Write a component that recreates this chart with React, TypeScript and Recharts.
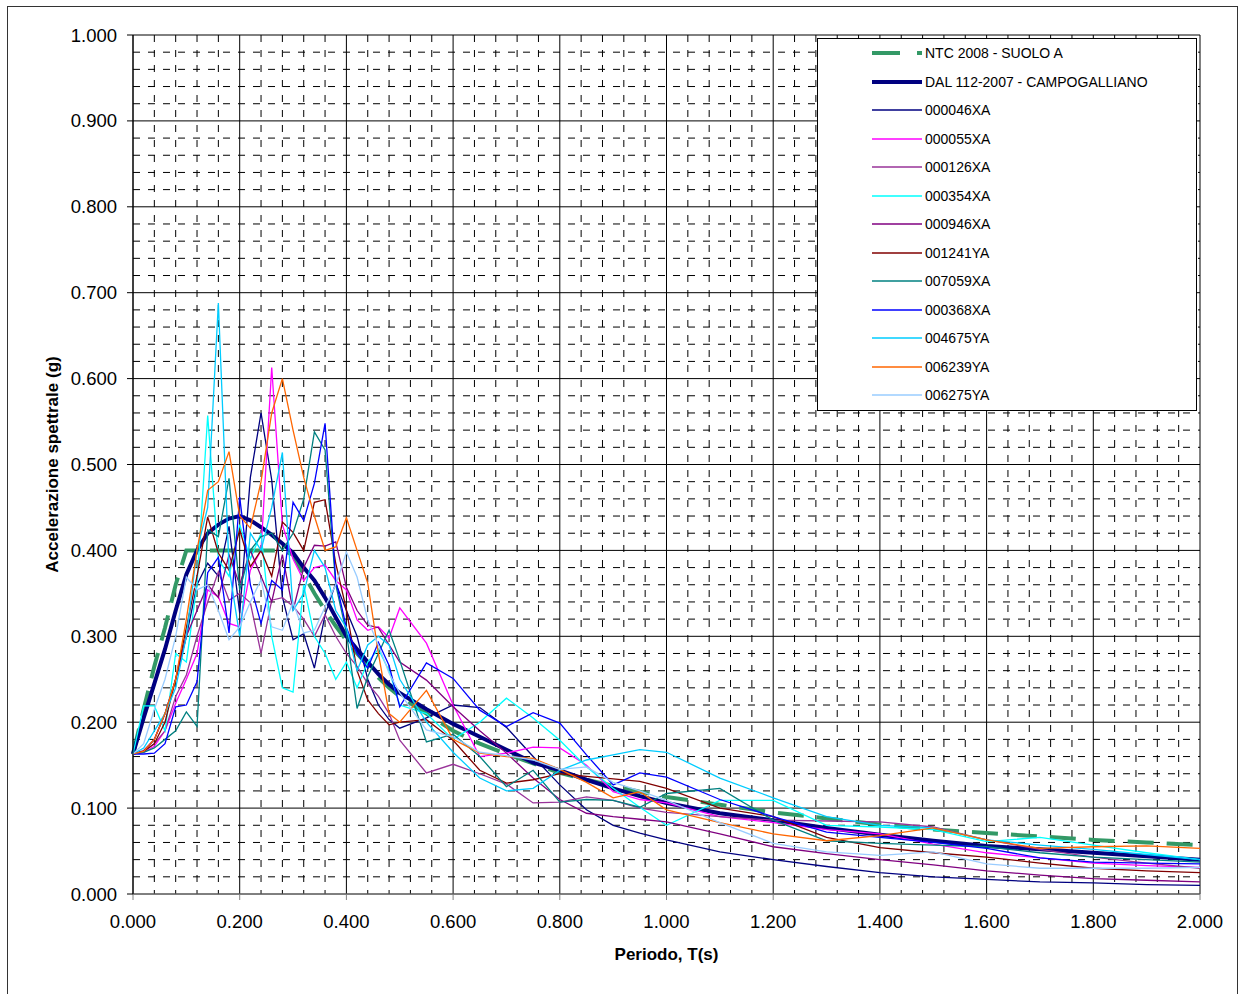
import React from "react";
import { LineChart, Line, XAxis, YAxis, CartesianGrid, Legend, Label } from "recharts";

const FONT = "'Liberation Sans', Arial, sans-serif";

// periods T(s)
const periods = [
  0, 0.02, 0.04, 0.06, 0.08, 0.1, 0.12, 0.14, 0.16, 0.18, 0.2, 0.22, 0.24, 0.26, 0.28, 0.3,
  0.32, 0.34, 0.36, 0.38, 0.4, 0.42, 0.44, 0.46, 0.48, 0.5,
  0.55, 0.6, 0.65, 0.7, 0.75, 0.8, 0.85, 0.9, 0.95, 1,
  1.1, 1.2, 1.3, 1.4, 1.5, 1.6, 1.7, 1.8, 1.9, 2,
];

const ntc = [
  0.163, 0.215, 0.265, 0.31, 0.36, 0.4, 0.4, 0.4, 0.4, 0.4, 0.4, 0.4, 0.4, 0.4, 0.4, 0.395,
  0.372, 0.35, 0.33, 0.312, 0.295, 0.28, 0.266, 0.252, 0.24, 0.23,
  0.21, 0.19, 0.175, 0.163, 0.152, 0.141, 0.133, 0.126, 0.119, 0.113,
  0.104, 0.095, 0.088, 0.081, 0.075, 0.071, 0.067, 0.063, 0.06, 0.057,
];
const dal = [
  0.163, 0.205, 0.245, 0.285, 0.33, 0.372, 0.4, 0.42, 0.43, 0.437, 0.44, 0.435, 0.427, 0.418, 0.408, 0.397,
  0.38, 0.365, 0.345, 0.322, 0.3, 0.285, 0.27, 0.256, 0.244, 0.234,
  0.215, 0.198, 0.183, 0.168, 0.153, 0.144, 0.133, 0.123, 0.114, 0.106,
  0.094, 0.086, 0.077, 0.069, 0.062, 0.056, 0.052, 0.048, 0.044, 0.04,
];
const s046 = [
  0.163, 0.165, 0.18, 0.21, 0.25, 0.3, 0.36, 0.385, 0.37, 0.428, 0.327, 0.485, 0.56, 0.482, 0.346, 0.296,
  0.303, 0.263, 0.325, 0.362, 0.33, 0.3, 0.25, 0.22, 0.203, 0.193,
  0.205, 0.22, 0.217, 0.194, 0.16, 0.127, 0.098, 0.08, 0.071, 0.063,
  0.049, 0.04, 0.032, 0.025, 0.02, 0.017, 0.014, 0.013, 0.011, 0.01,
];
const s055 = [
  0.163, 0.165, 0.172, 0.19, 0.222, 0.25, 0.28, 0.354, 0.346, 0.315, 0.311, 0.377, 0.4, 0.613, 0.43, 0.39,
  0.365, 0.38, 0.383, 0.365, 0.354, 0.319, 0.307, 0.311, 0.298, 0.333,
  0.292, 0.22, 0.16, 0.164, 0.171, 0.17, 0.15, 0.119, 0.11, 0.106,
  0.09, 0.083, 0.075, 0.07, 0.058, 0.048, 0.042, 0.036, 0.033, 0.031,
];
const s126 = [
  0.163, 0.166, 0.175, 0.19, 0.23, 0.255, 0.3, 0.34, 0.375, 0.342, 0.35, 0.339, 0.28, 0.342, 0.345, 0.335,
  0.32, 0.3, 0.325, 0.3, 0.28, 0.265, 0.245, 0.23, 0.21, 0.179,
  0.141, 0.151, 0.14, 0.128, 0.106, 0.107, 0.113, 0.109, 0.1, 0.095,
  0.09, 0.086, 0.085, 0.084, 0.078, 0.063, 0.052, 0.043, 0.036, 0.03,
];
const s354 = [
  0.163, 0.219, 0.219, 0.19, 0.28, 0.27, 0.36, 0.557, 0.39, 0.37, 0.43, 0.39, 0.42, 0.3, 0.24, 0.235,
  0.36, 0.3, 0.28, 0.25, 0.27, 0.24, 0.27, 0.285, 0.26, 0.22,
  0.21, 0.18, 0.2, 0.228, 0.205, 0.179, 0.148, 0.123, 0.101, 0.08,
  0.109, 0.109, 0.08, 0.078, 0.075, 0.061, 0.066, 0.057, 0.048, 0.04,
];
const s946 = [
  0.163, 0.167, 0.18, 0.21, 0.25, 0.3, 0.33, 0.36, 0.345, 0.395, 0.36, 0.4, 0.37, 0.34, 0.395, 0.33,
  0.38, 0.406, 0.405, 0.41, 0.357, 0.33, 0.313, 0.31, 0.29, 0.27,
  0.249, 0.218, 0.19, 0.164, 0.135, 0.11, 0.094, 0.09, 0.087, 0.084,
  0.07, 0.055, 0.047, 0.04, 0.034, 0.027, 0.022, 0.018, 0.016, 0.014,
];
const s241 = [
  0.163, 0.166, 0.175, 0.2, 0.25, 0.31, 0.37, 0.439, 0.397, 0.377, 0.424, 0.381, 0.4, 0.37, 0.433, 0.421,
  0.4, 0.456, 0.459, 0.385, 0.331, 0.26, 0.226, 0.21, 0.197, 0.2,
  0.203, 0.179, 0.144, 0.129, 0.133, 0.14, 0.137, 0.134, 0.131, 0.123,
  0.1, 0.09, 0.066, 0.054, 0.048, 0.043, 0.036, 0.03, 0.027, 0.025,
];
const s059 = [
  0.163, 0.165, 0.17, 0.18, 0.19, 0.212, 0.195, 0.424, 0.416, 0.484, 0.354, 0.4, 0.416, 0.42, 0.4, 0.42,
  0.46, 0.538, 0.517, 0.36, 0.304, 0.216, 0.253, 0.28, 0.307, 0.272,
  0.177, 0.186, 0.16, 0.125, 0.144, 0.107, 0.11, 0.109, 0.101, 0.117,
  0.123, 0.086, 0.062, 0.059, 0.057, 0.055, 0.048, 0.043, 0.04, 0.037,
];
const s368 = [
  0.163, 0.163, 0.164, 0.175, 0.218, 0.22, 0.247, 0.374, 0.392, 0.304, 0.462, 0.36, 0.315, 0.365, 0.354, 0.456,
  0.435, 0.478, 0.548, 0.365, 0.31, 0.28, 0.263, 0.293, 0.266, 0.218,
  0.269, 0.251, 0.214, 0.195, 0.211, 0.199, 0.162, 0.127, 0.141, 0.136,
  0.11, 0.09, 0.072, 0.066, 0.06, 0.053, 0.042, 0.037, 0.036, 0.035,
];
const s675 = [
  0.163, 0.17, 0.19, 0.21, 0.24, 0.3, 0.4, 0.45, 0.688, 0.38, 0.3, 0.42, 0.4, 0.45, 0.514, 0.33,
  0.35, 0.4, 0.38, 0.33, 0.31, 0.26, 0.29, 0.3, 0.29, 0.25,
  0.2, 0.165, 0.135, 0.12, 0.123, 0.144, 0.156, 0.162, 0.168, 0.165,
  0.135, 0.112, 0.09, 0.08, 0.077, 0.063, 0.057, 0.052, 0.046, 0.04,
];
const s239 = [
  0.163, 0.166, 0.18, 0.21, 0.25, 0.32, 0.4, 0.47, 0.48, 0.515, 0.44, 0.426, 0.48, 0.56, 0.6, 0.54,
  0.485, 0.44, 0.4, 0.404, 0.438, 0.4, 0.362, 0.28, 0.21, 0.2,
  0.237, 0.18, 0.164, 0.16, 0.158, 0.145, 0.13, 0.112, 0.119, 0.098,
  0.083, 0.07, 0.062, 0.068, 0.077, 0.063, 0.053, 0.055, 0.056, 0.053,
];
const s275 = [
  0.163, 0.175, 0.215, 0.25, 0.3, 0.369, 0.354, 0.36, 0.33, 0.296, 0.311, 0.34, 0.366, 0.311, 0.307, 0.34,
  0.304, 0.307, 0.334, 0.36, 0.398, 0.369, 0.319, 0.29, 0.257, 0.234,
  0.191, 0.183, 0.165, 0.161, 0.156, 0.145, 0.148, 0.13, 0.12, 0.109,
  0.083, 0.059, 0.049, 0.045, 0.049, 0.035, 0.03, 0.03, 0.03, 0.031,
];

const xTicks = [0, 0.2, 0.4, 0.6, 0.8, 1, 1.2, 1.4, 1.6, 1.8, 2];
const yTicks = [0, 0.1, 0.2, 0.3, 0.4, 0.5, 0.6, 0.7, 0.8, 0.9, 1];
const X_MAX = 2;
const Y_MAX = 1;

// minor grid: every 0.04 s and every 0.02 g
const xMinor = Array.from({ length: 51 }, (_, i) => +(i * 0.04).toFixed(2)).filter((v) => Math.round(v * 100) % 20 !== 0);
const yMinor = Array.from({ length: 51 }, (_, i) => +(i * 0.02).toFixed(2)).filter((v) => Math.round(v * 100) % 10 !== 0);

const THIN = 1.3;

const series = [
  { key: "ntc", name: "NTC 2008 - SUOLO A", values: ntc, color: "#339966", width: 4, dash: "26 13", legendDash: "28 17" },
  { key: "dal", name: "DAL 112-2007 - CAMPOGALLIANO", values: dal, color: "#000080", width: 4 },
  { key: "s046", name: "000046XA", values: s046, color: "#000080", width: THIN },
  { key: "s055", name: "000055XA", values: s055, color: "#FF00FF", width: THIN },
  { key: "s126", name: "000126XA", values: s126, color: "#993399", width: THIN },
  { key: "s354", name: "000354XA", values: s354, color: "#00FFFF", width: THIN },
  { key: "s946", name: "000946XA", values: s946, color: "#800080", width: THIN },
  { key: "s241", name: "001241YA", values: s241, color: "#800000", width: THIN },
  { key: "s059", name: "007059XA", values: s059, color: "#008080", width: THIN },
  { key: "s368", name: "000368XA", values: s368, color: "#0000FF", width: THIN },
  { key: "s675", name: "004675YA", values: s675, color: "#00CCFF", width: THIN },
  { key: "s239", name: "006239YA", values: s239, color: "#FF6600", width: THIN },
  { key: "s275", name: "006275YA", values: s275, color: "#99CCFF", width: THIN },
];

const rows = periods.map((t, i) => {
  const row: Record<string, number> = { t };
  series.forEach((s) => (row[s.key] = s.values[i]));
  return row;
});

const scaleOf = (axis: any, fallback: (v: number) => number) =>
  axis && typeof axis.scale === "function" ? (v: number) => axis.scale(v) : fallback;

const LegendBox = () => (
  <div
    style={{
      width: 380, height: 373, border: "1px solid #000", background: "#fff",
      boxSizing: "border-box", position: "relative", fontFamily: FONT, fontSize: 14, color: "#000",
    }}
  >
    {series.map((s, i) => (
      <div
        key={s.key}
        style={{ position: "absolute", left: 0, top: 4 + i * 28.5, height: 20, display: "flex", alignItems: "center" }}
      >
        <svg width={104} height={20} style={{ display: "block" }}>
          <line x1={54} x2={104} y1={10} y2={10} stroke={s.color} strokeWidth={s.width}
            strokeDasharray={s.legendDash} />
        </svg>
        <span style={{ marginLeft: 3, whiteSpace: "nowrap", lineHeight: "20px" }}>{s.name}</span>
      </div>
    ))}
  </div>
);

export default function App() {
  return (
    <div style={{ position: "absolute", left: 0, top: 0, width: 1238, height: 994, background: "#fff" }}>
      <div style={{ position: "absolute", left: 7, top: 6, width: 1229, height: 990, border: "1px solid #333" }} />
      <div style={{ position: "absolute", left: 0, top: 0 }}>
        <LineChart width={1238} height={994} data={rows} margin={{ top: 35, right: 38, left: 0, bottom: 0 }}>
          <CartesianGrid
            stroke="#000"
            strokeDasharray="7 8"
            verticalCoordinatesGenerator={({ xAxis, offset }: any) => {
              const sx = scaleOf(xAxis, (v) => offset.left + (v / X_MAX) * offset.width);
              return xMinor.map(sx);
            }}
            horizontalCoordinatesGenerator={({ yAxis, offset }: any) => {
              const sy = scaleOf(yAxis, (v) => offset.top + (1 - v / Y_MAX) * offset.height);
              return yMinor.map(sy);
            }}
          />
          <CartesianGrid stroke="#000" />
          <XAxis
            dataKey="t"
            type="number"
            domain={[0, X_MAX]}
            ticks={xTicks}
            interval={0}
            height={100}
            tickFormatter={(v: number) => v.toFixed(3)}
            tick={{ fill: "#000", fontSize: 18.5, fontFamily: FONT }}
            tickSize={6}
            tickMargin={15}
            stroke="#808080"
          >
            <Label
              content={({ viewBox }: any) => (
                <text x={viewBox.x + viewBox.width / 2} y={viewBox.y + 66} textAnchor="middle"
                  fontFamily={FONT} fontWeight="bold" fontSize={17} fill="#000">
                  Periodo, T(s)
                </text>
              )}
            />
          </XAxis>
          <YAxis
            type="number"
            domain={[0, Y_MAX]}
            ticks={yTicks}
            interval={0}
            width={133}
            tickFormatter={(v: number) => v.toFixed(3)}
            tick={{ fill: "#000", fontSize: 18.5, fontFamily: FONT }}
            tickSize={6}
            tickMargin={10}
            stroke="#000"
          >
            <Label
              content={({ viewBox }: any) => {
                const cx = 58;
                const cy = viewBox.y + viewBox.height / 2;
                return (
                  <text x={cx} y={cy} transform={`rotate(-90 ${cx} ${cy})`} textAnchor="middle"
                    fontFamily={FONT} fontWeight="bold" fontSize={17} fill="#000">
                    Accelerazione spettrale (g)
                  </text>
                );
              }}
            />
          </YAxis>
          {series.map((s) => (
            <Line
              key={s.key}
              dataKey={s.key}
              name={s.name}
              type="linear"
              stroke={s.color}
              strokeWidth={s.width}
              strokeDasharray={s.dash}
              dot={false}
              activeDot={false}
              isAnimationActive={false}
            />
          ))}
          <Legend
            layout="vertical"
            align="center"
            verticalAlign="middle"
            width={380}
            height={373}
            wrapperStyle={{ left: 817, top: 38, width: 380, height: 373 }}
            content={() => <LegendBox />}
          />
        </LineChart>
      </div>
    </div>
  );
}
